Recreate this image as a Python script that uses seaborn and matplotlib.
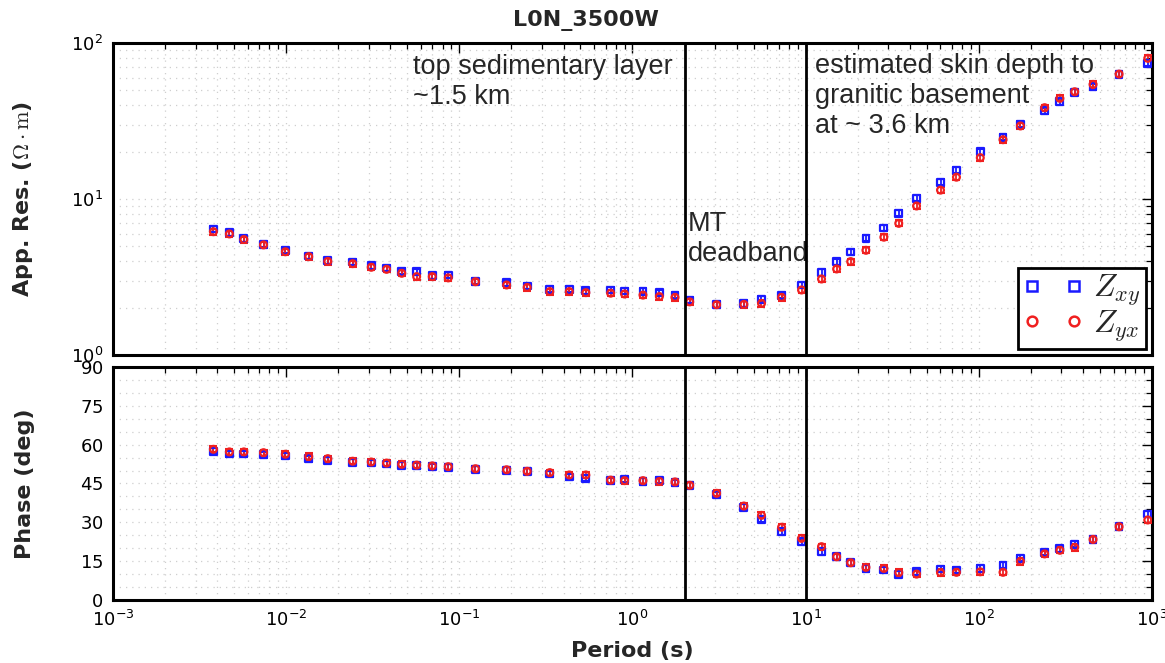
import numpy as np
import pandas as pd
import matplotlib
matplotlib.use("Agg")
import matplotlib.pyplot as plt
from matplotlib.lines import Line2D
from matplotlib.ticker import LogLocator, MultipleLocator, NullFormatter
import seaborn as sns

# ---- MT sounding L0N_3500W ----
period = [0.0038, 0.0047, 0.0057, 0.0074, 0.0099, 0.0135, 0.0174, 0.0242, 0.031, 0.038,
          0.0465, 0.0567, 0.0698, 0.0863, 0.124, 0.1875, 0.2465, 0.333, 0.4315, 0.538,
          0.748, 0.90, 1.15, 1.43, 1.76, 2.14, 3.06, 4.40, 5.56, 7.26,
          9.47, 12.35, 15.1, 18.2, 22.3, 28.3, 34.5, 43.7, 60.1, 74.3,
          102, 138, 174, 240, 294, 358, 457, 646, 946]

rho_xy = [6.42, 6.08, 5.55, 5.13, 4.69, 4.31, 4.02, 3.94, 3.73, 3.61,
          3.44, 3.41, 3.22, 3.26, 2.97, 2.90, 2.77, 2.64, 2.64, 2.58,
          2.61, 2.57, 2.56, 2.51, 2.42, 2.25, 2.11, 2.14, 2.28, 2.42,
          2.81, 3.38, 3.97, 4.57, 5.60, 6.52, 8.09, 10.1, 12.8, 15.3,
          20.1, 24.9, 30.1, 36.8, 42.1, 48.3, 52.5, 63.2, 74.1]

rho_yx = [6.17, 5.97, 5.50, 5.08, 4.59, 4.27, 3.98, 3.85, 3.65, 3.54,
          3.34, 3.18, 3.18, 3.12, 2.95, 2.81, 2.71, 2.55, 2.55, 2.51,
          2.49, 2.46, 2.42, 2.37, 2.34, 2.19, 2.10, 2.11, 2.14, 2.34,
          2.61, 3.07, 3.56, 3.97, 4.69, 5.69, 6.98, 9.02, 11.4, 13.8,
          18.4, 24.0, 29.4, 38.5, 44.2, 48.7, 54.3, 63.2, 79.8]

phase_xy = [57.4, 56.4, 56.4, 56.1, 55.6, 54.6, 54.0, 53.2, 52.9, 52.5,
            52.1, 51.9, 51.5, 51.3, 50.5, 50.1, 49.7, 48.7, 47.5, 47.0,
            46.1, 46.6, 45.8, 46.3, 45.3, 44.3, 40.7, 35.8, 31.2, 26.4,
            22.5, 18.7, 16.7, 14.4, 12.2, 11.6, 10.0, 10.9, 12.0, 11.6,
            12.2, 13.4, 16.1, 18.4, 19.8, 21.5, 23.4, 28.3, 33.2]

phase_yx = [58.2, 57.2, 57.2, 56.9, 56.3, 55.4, 54.6, 53.6, 53.3, 52.9,
            52.4, 52.1, 51.8, 51.5, 50.7, 50.3, 49.7, 49.2, 48.3, 48.3,
            46.3, 46.1, 46.1, 45.8, 45.6, 44.3, 41.2, 36.3, 32.7, 28.1,
            23.8, 20.6, 16.7, 14.4, 12.6, 12.2, 10.6, 10.0, 10.6, 10.7,
            10.9, 10.7, 14.9, 17.8, 19.2, 20.3, 23.4, 28.3, 30.9]

# measurement uncertainties
rho_rel_err = 0.045      # relative error on apparent resistivity
phase_err_deg = 1.2      # phase error in degrees

deadband_edges = [2.0, 10.0]   # MT dead-band limits (s)

components = {
    "xy": dict(rho=rho_xy, phase=phase_xy, color="#1a1aff", marker="s", label=r"$Z_{xy}$"),
    "yx": dict(rho=rho_yx, phase=phase_yx, color="#f02020", marker="o", label=r"$Z_{yx}$"),
}

df = pd.concat([
    pd.DataFrame({"period": period, "rho": c["rho"], "phase": c["phase"], "comp": k})
    for k, c in components.items()
], ignore_index=True)

sns.set_style("white")
plt.rcParams["font.family"] = ["DejaVu Sans"]
plt.rcParams["mathtext.fontset"] = "cm"
plt.rcParams["axes.formatter.use_mathtext"] = True

fig = plt.figure(figsize=(11.65, 6.63), dpi=100)
ax_r = fig.add_axes([0.097, 0.4646, 0.8918, 0.4705])
ax_p = fig.add_axes([0.097, 0.0950, 0.8918, 0.3515], sharex=ax_r)

for k, c in components.items():
    sub = df[df["comp"] == k]
    ax_r.errorbar(sub["period"], sub["rho"], yerr=sub["rho"] * rho_rel_err,
                  fmt="none", ecolor=c["color"], elinewidth=1.3, capsize=3.2,
                  capthick=1.5, zorder=3)
    ax_p.errorbar(sub["period"], sub["phase"], yerr=phase_err_deg,
                  fmt="none", ecolor=c["color"], elinewidth=1.3, capsize=3.2,
                  capthick=1.5, zorder=3)
    sns.scatterplot(data=sub, x="period", y="rho", ax=ax_r, marker=c["marker"],
                    facecolor="none", edgecolor=c["color"], linewidth=1.6,
                    s=24, zorder=4, legend=False)
    sns.scatterplot(data=sub, x="period", y="phase", ax=ax_p, marker=c["marker"],
                    facecolor="none", edgecolor=c["color"], linewidth=1.6,
                    s=24, zorder=4, legend=False)

ax_r.set_xscale("log")
ax_r.set_yscale("log")
ax_r.set_xlim(1e-3, 1e3)
ax_r.set_ylim(1, 100)
ax_p.set_ylim(0, 90)
ax_p.yaxis.set_major_locator(MultipleLocator(15))
ax_p.yaxis.set_minor_locator(MultipleLocator(5))
ax_r.xaxis.set_major_locator(LogLocator(base=10, numticks=10))
ax_r.xaxis.set_minor_locator(LogLocator(base=10, subs=np.arange(2, 10), numticks=20))
ax_r.yaxis.set_minor_locator(LogLocator(base=10, subs=np.arange(2, 10), numticks=20))
ax_r.xaxis.set_minor_formatter(NullFormatter())
ax_r.yaxis.set_minor_formatter(NullFormatter())

for ax in (ax_r, ax_p):
    ax.set_xlabel("")
    ax.set_ylabel("")
    ax.grid(True, which="both", linestyle=(0, (1, 4)), color="#cfcfcf", linewidth=0.9)
    ax.tick_params(which="both", direction="in", top=True, right=True, colors="black",
                   labelsize=13, pad=7)
    ax.tick_params(which="major", length=7, width=1.0)
    ax.tick_params(which="minor", length=4, width=0.9)
    for sp in ax.spines.values():
        sp.set_color("black")
        sp.set_linewidth(2.2)
    for edge in deadband_edges:
        ax.axvline(edge, color="black", linewidth=2.0, zorder=5)

ax_r.tick_params(labelbottom=False)

ax_r.set_ylabel(r"App. Res. ($\Omega\cdot\mathrm{m}$)", fontsize=16, fontweight="bold")
ax_p.set_ylabel("Phase (deg)", fontsize=16, fontweight="bold")
ax_p.set_xlabel("Period (s)", fontsize=16, fontweight="bold", labelpad=8)
ax_r.yaxis.set_label_coords(-0.075, 0.5)
ax_p.yaxis.set_label_coords(-0.075, 0.5)

fig.suptitle("L0N_3500W", x=0.503, y=0.985, fontsize=16, fontweight="bold")

note_kw = dict(fontsize=19.5, family="Liberation Sans", va="top", ha="left",
               linespacing=1.2, transform=ax_r.transAxes)
ax_r.text(0.289, 0.965, "top sedimentary layer\n~1.5 km", **note_kw)
ax_r.text(0.553, 0.46, "MT\ndeadband", **note_kw)
ax_r.text(0.676, 0.968, "estimated skin depth to\ngranitic basement\nat ~ 3.6 km", **note_kw)

handles = [Line2D([], [], linestyle="none", marker=c["marker"], markersize=7,
                  markerfacecolor="none", markeredgecolor=c["color"], markeredgewidth=1.8)
           for c in components.values()]
labels = [c["label"] for c in components.values()]
leg = ax_r.legend(handles, labels, loc="lower right", numpoints=2, fontsize=23,
                  frameon=True, fancybox=False, borderaxespad=0.2, handlelength=1.9,
                  handletextpad=0.3, borderpad=0.15, labelspacing=0.0)
leg.get_frame().set_edgecolor("black")
leg.get_frame().set_linewidth(2.0)
leg.get_frame().set_facecolor("white")
leg.get_frame().set_alpha(1.0)
leg.set_zorder(10)

fig.savefig("out.png", dpi=100)
